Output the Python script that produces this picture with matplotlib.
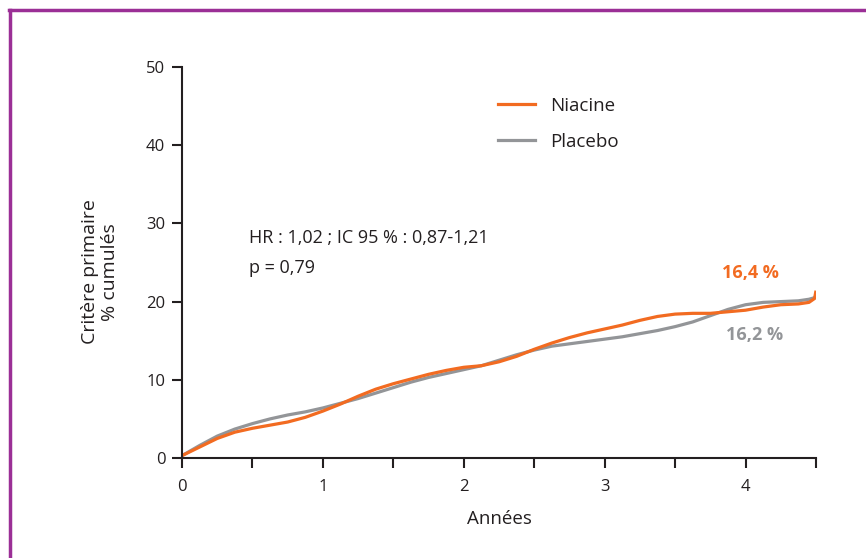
import matplotlib
matplotlib.use("Agg")
import matplotlib.pyplot as plt
from matplotlib.lines import Line2D

plt.rcParams["font.family"] = ["Open Sans", "DejaVu Sans"]

TEXT_COLOR = "#231F20"
ORANGE = "#F26B21"
GRAY = "#939598"
PURPLE = "#9B2F96"

# Années
years = [0, 0.125, 0.25, 0.375, 0.5, 0.625, 0.75, 0.875, 1.0, 1.125, 1.25, 1.375,
         1.5, 1.625, 1.75, 1.875, 2.0, 2.125, 2.25, 2.375, 2.5, 2.625, 2.75, 2.875,
         3.0, 3.125, 3.25, 3.375, 3.5, 3.625, 3.75, 3.875, 4.0, 4.125, 4.25, 4.375,
         4.45, 4.49, 4.5]

niacine = [0.3, 1.4, 2.5, 3.3, 3.8, 4.2, 4.6, 5.2, 6.0, 6.9, 7.9, 8.8,
           9.5, 10.1, 10.7, 11.2, 11.6, 11.8, 12.3, 13.0, 13.9, 14.7, 15.4, 16.0,
           16.5, 17.0, 17.6, 18.1, 18.4, 18.5, 18.5, 18.7, 18.9, 19.3, 19.6, 19.7,
           19.9, 20.4, 21.4]

placebo = [0.3, 1.6, 2.8, 3.7, 4.4, 5.0, 5.5, 5.9, 6.4, 7.0, 7.6, 8.3,
           9.0, 9.7, 10.3, 10.8, 11.3, 11.8, 12.5, 13.2, 13.8, 14.3, 14.6, 14.9,
           15.2, 15.5, 15.9, 16.3, 16.8, 17.4, 18.2, 19.0, 19.6, 19.9, 20.0, 20.1,
           20.3, 20.5, 20.8]

x_ticks = [0, 0.5, 1, 1.5, 2, 2.5, 3, 3.5, 4, 4.5]
x_labels = ["0", "", "1", "", "2", "", "3", "", "4", ""]
y_ticks = [0, 10, 20, 30, 40, 50]


def main():
    fig = plt.figure(figsize=(8.66, 5.58), dpi=100)
    ax = fig.add_axes([182 / 866, 1 - 458 / 558, 634 / 866, 391 / 558])

    ax.plot(years, placebo, color=GRAY, lw=2.3, solid_capstyle="butt", label="Placebo")
    ax.plot(years, niacine, color=ORANGE, lw=2.3, solid_capstyle="butt", label="Niacine")

    ax.set_xlim(0, 4.5)
    ax.set_ylim(0, 50)
    for side in ["top", "right"]:
        ax.spines[side].set_visible(False)
    for side in ["left", "bottom"]:
        ax.spines[side].set_linewidth(1.5)
        ax.spines[side].set_color(TEXT_COLOR)

    ax.set_xticks(x_ticks)
    ax.set_xticklabels(x_labels)
    ax.set_yticks(y_ticks)
    ax.tick_params(direction="out", length=7, width=1.5, color=TEXT_COLOR,
                   labelsize=12, labelcolor=TEXT_COLOR)
    ax.tick_params(axis="x", pad=8)
    ax.tick_params(axis="y", pad=5)

    ax.set_xlabel("Années", fontsize=13.5, color=TEXT_COLOR, labelpad=11)
    fig.text(100 / 866, 1 - 272 / 558, "Critère primaire\n% cumulés", rotation=90,
             ha="center", va="center", fontsize=14, color=TEXT_COLOR,
             linespacing=1.2)

    fig.text(249 / 866, 1 - 238 / 558, "HR : 1,02 ; IC 95 % : 0,87-1,21",
             ha="left", va="center", fontsize=13, color=TEXT_COLOR)
    fig.text(249 / 866, 1 - 268 / 558, "p = 0,79",
             ha="left", va="center", fontsize=13, color=TEXT_COLOR)

    fig.text(750 / 866, 1 - 273 / 558, "16,4 %", ha="center", va="center",
             fontsize=13, fontweight="bold", color=ORANGE)
    fig.text(755 / 866, 1 - 335 / 558, "16,2 %", ha="center", va="center",
             fontsize=13, fontweight="bold", color=GRAY)

    handles = [Line2D([], [], color=ORANGE, lw=2.3),
               Line2D([], [], color=GRAY, lw=2.3)]
    fig.legend(handles, ["Niacine", "Placebo"], loc="upper left",
               bbox_to_anchor=(481 / 866, 1 - 80 / 558), frameon=False,
               fontsize=13.5, handlelength=2.0, handletextpad=0.8,
               labelspacing=0.95, labelcolor=TEXT_COLOR)

    # cadre violet
    fig.add_artist(Line2D([10 / 866, 10 / 866], [0, 1 - 10 / 558],
                          transform=fig.transFigure, color=PURPLE, lw=2.5))
    fig.add_artist(Line2D([9 / 866, 1], [1 - 10 / 558, 1 - 10 / 558],
                          transform=fig.transFigure, color=PURPLE, lw=2.5))

    fig.savefig("out.png", dpi=100)


if __name__ == "__main__":
    main()
